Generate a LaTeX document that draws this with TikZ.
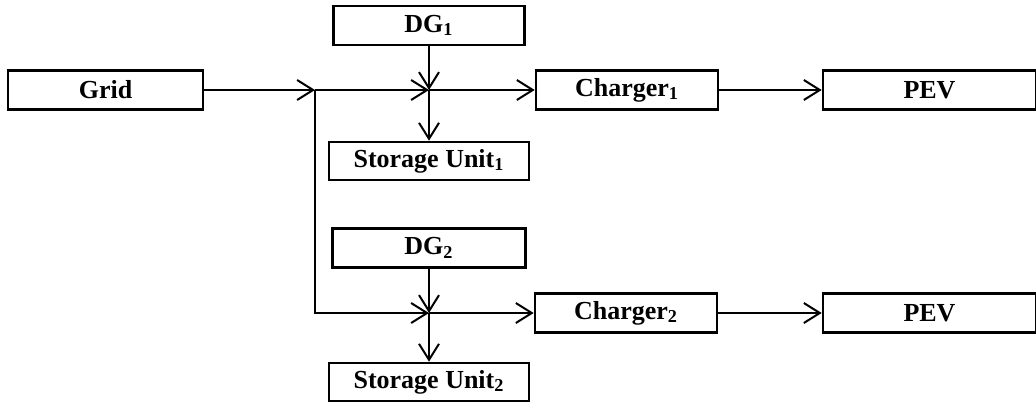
\documentclass[tikz,border=0pt]{standalone}
\usepackage{fontspec}
\setmainfont{Liberation Serif}
\usetikzlibrary{arrows.meta}
\tikzset{
  blk/.style={draw, line width=1.3pt, minimum height=19.5pt, inner sep=0pt, font=\fontsize{13}{15}\selectfont\bfseries},
  flow/.style={-{Straight Barb[length=8pt,width=10pt]}, line width=1pt},
}
\begin{document}
\begin{tikzpicture}[x=0.5pt, y=-0.5pt]
        \useasboundingbox (0,0) rectangle (1036,402);
        \node[blk, minimum width=97.5pt] (grid) at (105.5,90) {Grid};
        \coordinate (s1) at (315,90);
        \coordinate (j1) at (429,90);
        \coordinate (j2) at (429,313);
        \node[blk, minimum width=95.5pt] (dg1) at (429,25.5) {DG\textsubscript{1}};
        \node[blk, minimum width=100pt, minimum height=19pt] (su1) at (429,161) {Storage Unit\textsubscript{1}};
        \node[blk, minimum width=91pt] (ch1) at (627,90) {Charger\textsubscript{1}};
        \node[blk, minimum width=106.5pt] (pev1) at (929.5,90) {PEV};
        \node[blk, minimum width=96.5pt] (dg2) at (429,248) {DG\textsubscript{2}};
        \node[blk, minimum width=100pt, minimum height=19pt] (su2) at (429,382) {Storage Unit\textsubscript{2}};
        \node[blk, minimum width=91pt] (ch2) at (626,313) {Charger\textsubscript{2}};
        \node[blk, minimum width=106.5pt] (pev2) at (929.5,313) {PEV};
        \foreach \x/\y in {grid/s1,s1/j1,dg1/j1,j1/su1,j1/ch1,ch1/pev1,dg2/j2,j2/su2,j2/ch2,ch2/pev2}{\draw[flow] (\x) -- (\y);}
        \draw[flow] (s1) |- (j2);
      \end{tikzpicture}
\end{document}
